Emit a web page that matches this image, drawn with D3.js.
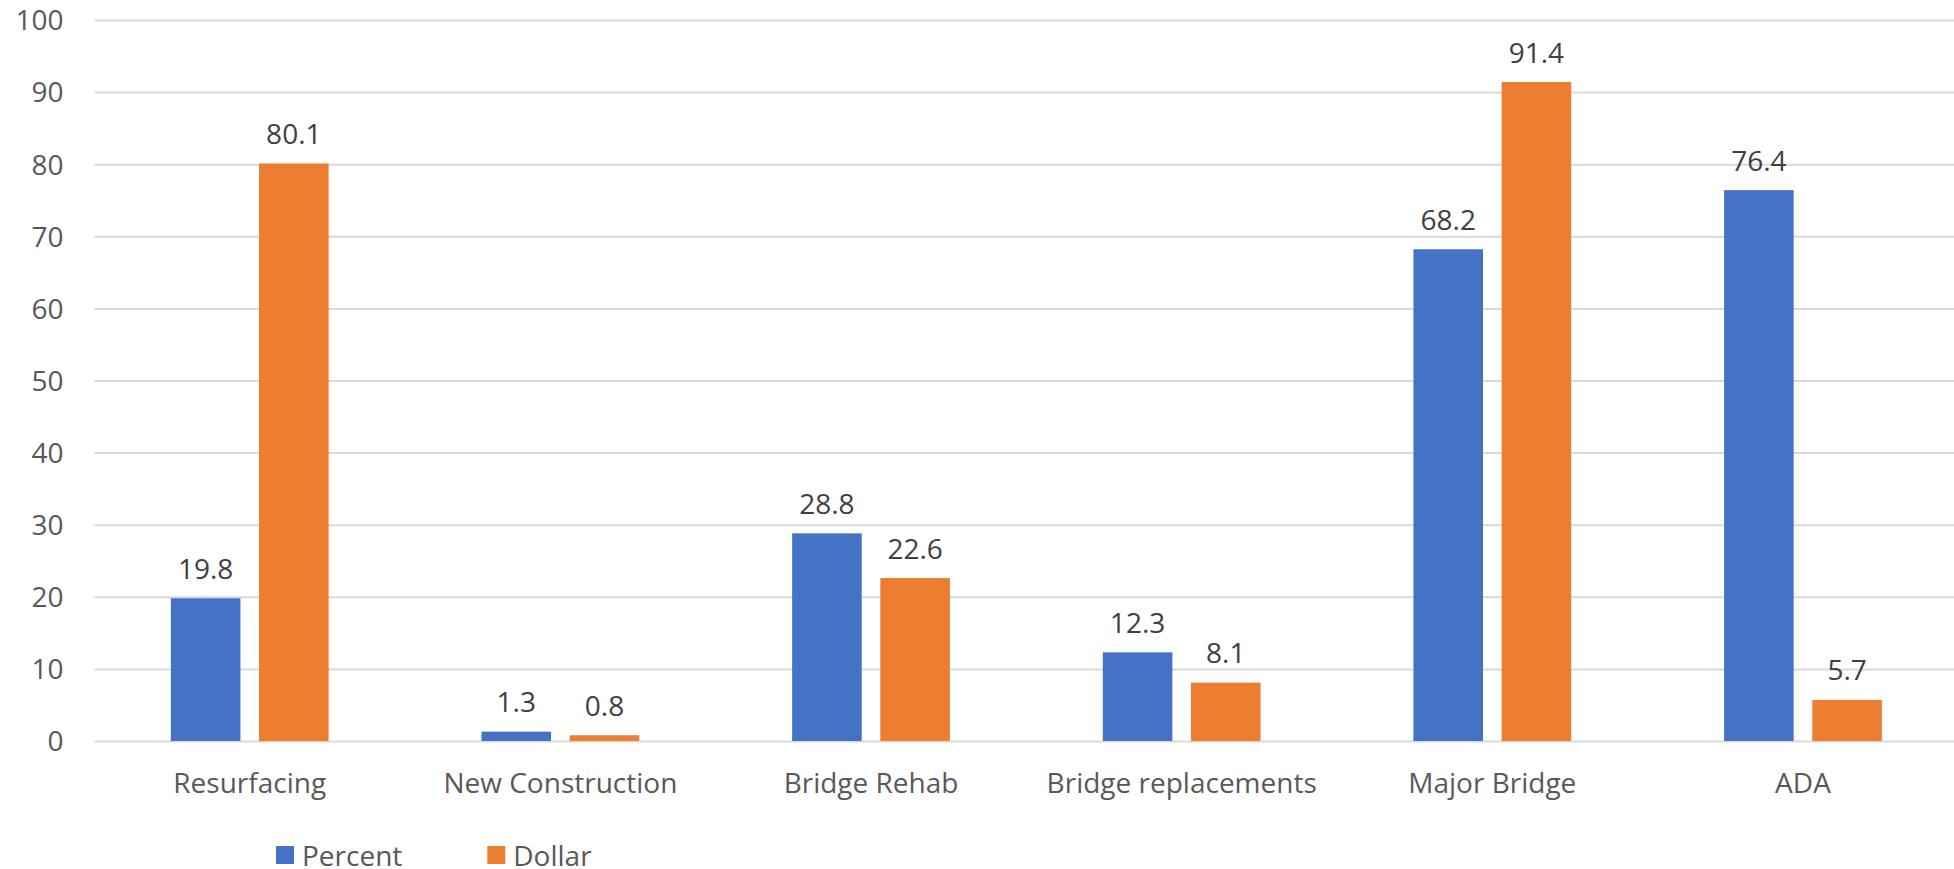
<!DOCTYPE html>
<html>
<head>
<meta charset="utf-8">
<script src="https://cdn.jsdelivr.net/npm/d3@7"></script>
<style>
  html, body { margin: 0; padding: 0; background: #fff; }
  svg { display: block; }
  text { font-family: "Open Sans", "Noto Sans", sans-serif; }
</style>
</head>
<body>
<svg id="chart" width="1954" height="869"></svg>
<script>
const categories = ["Resurfacing", "New Construction", "Bridge Rehab", "Bridge replacements", "Major Bridge", "ADA"];
const seriesNames = ["Percent", "Dollar"];
const percentValues = [19.8, 1.3, 28.8, 12.3, 68.2, 76.4];
const dollarValues = [80.1, 0.8, 22.6, 8.1, 91.4, 5.7];
const yTicks = [0, 10, 20, 30, 40, 50, 60, 70, 80, 90, 100];
const colors = { Percent: "#4472C4", Dollar: "#ED7D31" };

const seriesValues = { Percent: percentValues, Dollar: dollarValues };
const rows = categories.map((c, i) => ({
  cat: c,
  values: seriesNames.map(s => ({ key: s, value: seriesValues[s][i] }))
}));

const svg = d3.select("#chart");
const plotLeft = 94.4, plotRight = 1958.3;
const y = d3.scaleLinear().domain([0, 100]).range([741, 20]);
const x0 = d3.scaleBand().domain(categories).range([plotLeft, plotRight]).padding(0);
const x1 = d3.scaleBand().domain(seriesNames).range([0, x0.bandwidth()])
  .paddingInner(0.211).paddingOuter(0.8666);

// gridlines
const grid = svg.append("g").attr("class", "grid")
  .attr("transform", `translate(${plotLeft},0)`)
  .call(d3.axisLeft(y).tickValues(yTicks).tickSize(-(plotRight - plotLeft)).tickFormat(""));
grid.select(".domain").remove();
grid.selectAll("line").attr("stroke", "#d9d9d9").attr("stroke-width", 2);

// y labels
const yAxis = svg.append("g")
  .attr("transform", `translate(63.5,0)`)
  .call(d3.axisLeft(y).tickValues(yTicks).tickSize(0).tickPadding(0).tickFormat(d3.format("d")));
yAxis.select(".domain").remove();
yAxis.selectAll("text")
  .attr("fill", "#595959").style("font-size", "28px")
  .attr("dy", "0.35em");

// bars
const groups = svg.append("g").selectAll("g").data(rows).join("g")
  .attr("transform", d => `translate(${x0(d.cat)},0)`);
groups.selectAll("rect").data(d => d.values).join("rect")
  .attr("x", d => x1(d.key))
  .attr("width", x1.bandwidth())
  .attr("y", d => y(d.value))
  .attr("height", d => y(0) - y(d.value))
  .attr("fill", d => colors[d.key]);

// data labels
groups.selectAll("text.lbl").data(d => d.values).join("text")
  .attr("class", "lbl")
  .attr("x", d => x1(d.key) + x1.bandwidth() / 2)
  .attr("y", d => y(d.value) - 19.5)
  .attr("text-anchor", "middle")
  .attr("fill", "#404040")
  .style("font-size", "28px")
  .text(d => d3.format(".1f")(d.value));

// x axis labels
const xAxis = svg.append("g")
  .attr("transform", `translate(0,793)`)
  .call(d3.axisBottom(x0).tickSize(0).tickPadding(0));
xAxis.select(".domain").remove();
xAxis.selectAll("text")
  .attr("fill", "#595959").style("font-size", "28px")
  .attr("dy", "0").attr("y", 0);

// legend
const legendItems = [
  { key: "Percent", sx: 276, tx: 302 },
  { key: "Dollar", sx: 487.3, tx: 513.3 }
];
const legend = svg.append("g").selectAll("g").data(legendItems).join("g");
legend.append("rect")
  .attr("x", d => d.sx).attr("y", 846).attr("width", 18).attr("height", 18)
  .attr("fill", d => colors[d.key]);
legend.append("text")
  .attr("x", d => d.tx).attr("y", 866)
  .attr("fill", "#595959").style("font-size", "28px")
  .text(d => d.key);
</script>
</body>
</html>
